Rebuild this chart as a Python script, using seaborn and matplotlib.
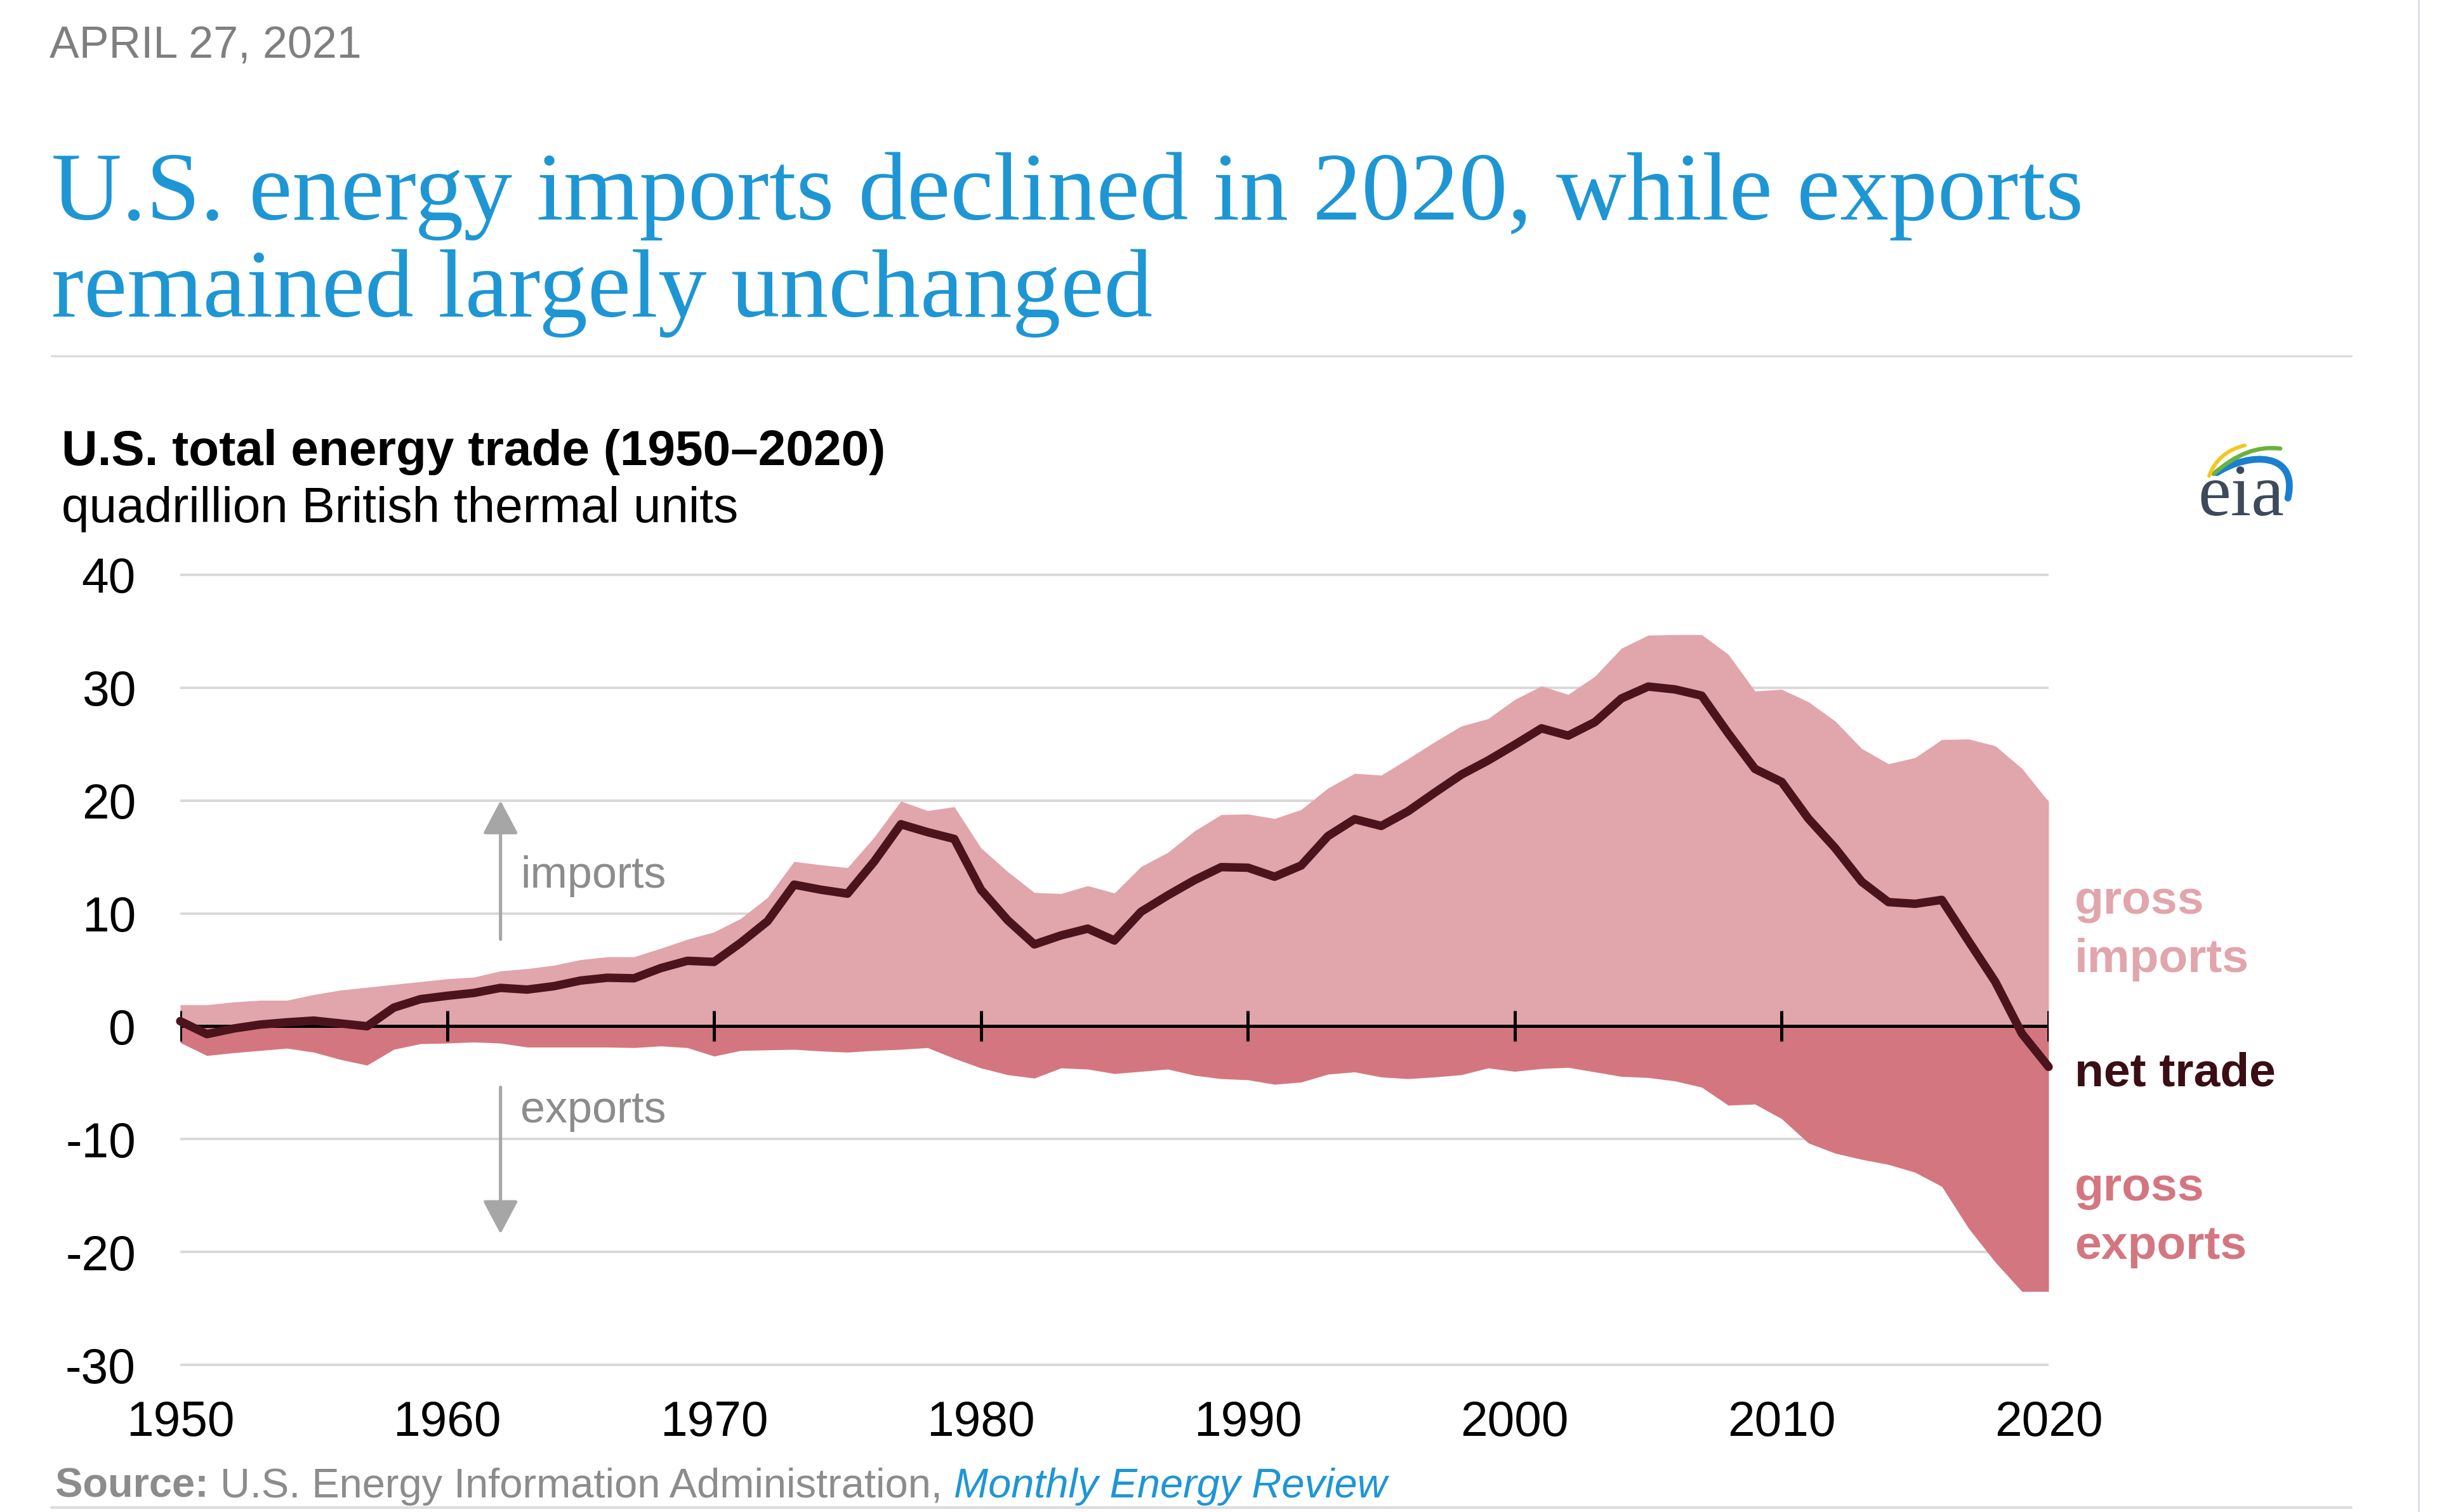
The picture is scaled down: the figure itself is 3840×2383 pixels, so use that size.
import numpy as np
import pandas as pd
import matplotlib.pyplot as plt
from matplotlib.path import Path
from matplotlib.patches import PathPatch
import seaborn as sns

# U.S. total energy trade, quadrillion Btu
years = list(range(1950, 2021))
imports = [1.9, 1.9, 2.15, 2.3, 2.3, 2.8, 3.2, 3.45, 3.7, 3.95,
           4.2, 4.35, 4.9, 5.1, 5.4, 5.9, 6.15, 6.15, 6.9, 7.7,
           8.35, 9.55, 11.4, 14.6, 14.3, 14.05, 16.75, 19.95, 19.1, 19.45,
           15.8, 13.7, 11.85, 11.75, 12.45, 11.8, 14.15, 15.4, 17.3, 18.75,
           18.8, 18.4, 19.2, 21.1, 22.4, 22.25, 23.7, 25.2, 26.6, 27.25,
           28.95, 30.15, 29.4, 31.0, 33.5, 34.65, 34.7, 34.7, 32.95, 29.7,
           29.85, 28.75, 27.05, 24.6, 23.25, 23.8, 25.4, 25.45, 24.85, 22.85,
           19.9]
exports = [1.45, 2.6, 2.35, 2.15, 1.95, 2.3, 2.95, 3.45, 2.05, 1.55,
           1.5, 1.4, 1.5, 1.85, 1.85, 1.85, 1.85, 1.9, 1.75, 1.9,
           2.65, 2.15, 2.1, 2.05, 2.2, 2.3, 2.15, 2.05, 1.9, 2.85,
           3.7, 4.3, 4.6, 3.7, 3.8, 4.2, 4.0, 3.8, 4.35, 4.65,
           4.75, 5.15, 4.95, 4.25, 4.05, 4.5, 4.65, 4.5, 4.3, 3.7,
           4.0, 3.75, 3.65, 4.05, 4.45, 4.55, 4.85, 5.4, 7.0, 6.9,
           8.2, 10.35, 11.25, 11.8, 12.25, 12.95, 14.2, 17.9, 20.9, 23.5,
           23.5]
decades = [1950, 1960, 1970, 1980, 1990, 2000, 2010, 2020]
yticks = [-30, -20, -10, 0, 10, 20, 30, 40]

df = pd.DataFrame({'year': years, 'imports': imports, 'exports': exports})
df['net'] = df['imports'] - df['exports']

IMP = '#e1a5ac'
EXP = '#d47680'
NET = '#4b141c'
BLUE = '#1e96d4'
GRAY = '#8c8c8c'

W, H = 3840, 2383
sns.set_theme(style='white')
plt.rcParams['font.family'] = ['Liberation Sans', 'DejaVu Sans']

fig = plt.figure(figsize=(W / 240, H / 240), dpi=240)
fig.patch.set_facecolor('white')


def fx(px):
    return px / W


def fy(py):
    return 1 - py / H


# plot area: 1950 -> x=284, 2020 -> x=3228, 40 -> y=906, -30 -> y=2151
pad = 0.3 * 17.79
ax = fig.add_axes([fx(284), fy(2151 + pad), (3228 - 284) / W, (2151 - 906 + 2 * pad) / H])

ax.fill_between(df['year'], 0, df['imports'], color=IMP, lw=0, zorder=1)
ax.fill_between(df['year'], 0, -df['exports'], color=EXP, lw=0, zorder=1)
ax.axhline(0, color='black', lw=1.5, zorder=3)
ax.vlines(decades, -1.35, 1.35, color='black', lw=1.5, zorder=3)
sns.lineplot(data=df, x='year', y='net', color=NET, lw=4.0, ax=ax, zorder=4,
             solid_capstyle='round', solid_joinstyle='round')
ax.lines[-1].set_clip_on(False)

ax.set_xlim(1950, 2020)
ax.set_ylim(-30 - 0.3, 40 + 0.3)
ax.set_xticks(decades)
ax.set_yticks(yticks)
ax.set_yticklabels([str(v) for v in yticks])
ax.grid(axis='y', color='#d9d9d9', lw=1.2)
ax.grid(axis='x', visible=False)
ax.set_axisbelow(True)
for s in ax.spines.values():
    s.set_visible(False)
ax.tick_params(axis='both', length=0, labelsize=23, colors='black')
ax.tick_params(axis='y', pad=21)
ax.tick_params(axis='x', pad=15)
ax.set_xlabel('')
ax.set_ylabel('')

# imports / exports arrows
arrow = dict(arrowstyle='-|>,head_length=0.68,head_width=0.36', color='#a6a6a6',
             lw=1.5, shrinkA=0, shrinkB=0, mutation_scale=20)
ax.annotate('', xy=(1962, 20), xytext=(1962, 7.7), arrowprops=arrow)
ax.annotate('', xy=(1962, -18.4), xytext=(1962, -5.4), arrowprops=arrow)
ax.text(1962.75, 13.3, 'imports', color=GRAY, fontsize=21, va='center', ha='left')
ax.text(1962.75, -7.5, 'exports', color=GRAY, fontsize=21, va='center', ha='left')

# series labels at the right
lab = dict(fontsize=22.5, fontweight='bold', va='baseline', ha='left')
fig.text(fx(3269), fy(1440), 'gross', color=IMP, **lab)
fig.text(fx(3269), fy(1532), 'imports', color=IMP, **lab)
fig.text(fx(3269), fy(1711), 'net trade', color='#3b0d14', **lab)
fig.text(fx(3269), fy(1892), 'gross', color=EXP, **lab)
fig.text(fx(3269), fy(1984), 'exports', color=EXP, **lab)

# header
fig.text(fx(78), fy(91), 'APRIL 27, 2021', color='#7f7f7f', fontsize=21, va='baseline')
fig.text(fx(81), fy(346), 'U.S. energy imports declined in 2020, while exports',
         family='Liberation Serif', fontsize=46, color=BLUE, va='baseline')
fig.text(fx(81), fy(499), 'remained largely unchanged',
         family='Liberation Serif', fontsize=46, color=BLUE, va='baseline')
fig.add_artist(plt.Line2D([fx(81), fx(3705)], [fy(561), fy(561)], color='#dcdcdc', lw=1.0))
fig.add_artist(plt.Line2D([fx(81), fx(3705)], [fy(2376), fy(2376)], color='#dcdcdc', lw=1.2))
fig.add_artist(plt.Line2D([fx(3811), fx(3811)], [0, 1], color='#e2e2e8', lw=1.0))

fig.text(fx(97), fy(733), 'U.S. total energy trade (1950\u20132020)', fontsize=23.5,
         fontweight='bold', color='black', va='baseline')
fig.text(fx(97), fy(823), 'quadrillion British thermal units', fontsize=23.5,
         color='black', va='baseline')

# source line, pieces chained left to right
t1 = fig.text(fx(87), fy(2360), 'Source: ', fontsize=19.5, fontweight='bold',
              color=GRAY, va='baseline')
t2 = plt.annotate('U.S. Energy Information Administration, ', xy=(1, 0), xycoords=t1,
                  va='bottom', ha='left', fontsize=19.5, color=GRAY)
t3 = plt.annotate('Monthly Energy Review', xy=(1, 0), xycoords=t2, va='bottom', ha='left',
                  fontsize=19.5, color=BLUE, style='italic')

# eia logo
lax = fig.add_axes([fx(3440), fy(830), 200 / W, 150 / H])
lax.set_xlim(3440, 3640)
lax.set_ylim(830, 680)
lax.axis('off')
blue_arc = Path([(3493, 745), (3545, 712), (3622, 712), (3605, 785)],
                [Path.MOVETO, Path.CURVE4, Path.CURVE4, Path.CURVE4])
green_arc = Path([(3488, 747), (3540, 700), (3593, 707)],
                 [Path.MOVETO, Path.CURVE3, Path.CURVE3])
yellow_arc = Path([(3481, 750), (3495, 712), (3537, 702)],
                  [Path.MOVETO, Path.CURVE3, Path.CURVE3])
lax.add_patch(PathPatch(blue_arc, fill=False, color='#1b7fcf', lw=3.2, capstyle='round'))
lax.add_patch(PathPatch(green_arc, fill=False, color='#6ab23e', lw=2.0, capstyle='round'))
lax.add_patch(PathPatch(yellow_arc, fill=False, color='#f2c81f', lw=1.8, capstyle='round'))
lax.text(3463, 812, 'eia', family='Liberation Serif', fontsize=35, color='#3c4a5a',
         va='baseline', ha='left')

fig.savefig('out.png', dpi=240, facecolor='white')
